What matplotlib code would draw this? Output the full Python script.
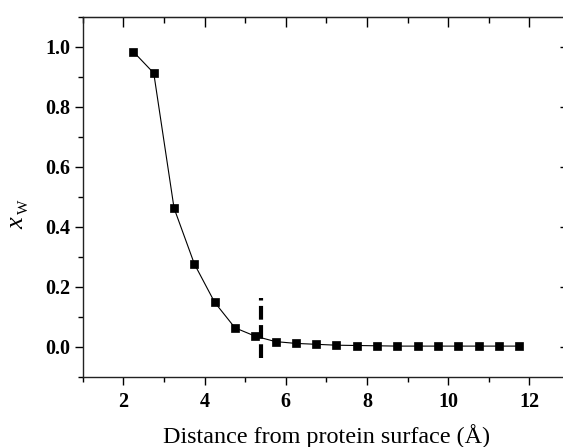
import matplotlib
matplotlib.use("Agg")
import matplotlib.pyplot as plt
from matplotlib.ticker import MultipleLocator

# data
distance = [2.25, 2.75, 3.25, 3.75, 4.25, 4.75, 5.25, 5.75, 6.25, 6.75,
            7.25, 7.75, 8.25, 8.75, 9.25, 9.75, 10.25, 10.75, 11.25, 11.75]
x_w = [0.983, 0.912, 0.462, 0.276, 0.148, 0.063, 0.035, 0.017, 0.011, 0.008,
       0.005, 0.004, 0.003, 0.002, 0.002, 0.002, 0.002, 0.002, 0.002, 0.002]
cutoff_x = 5.38
cutoff_y = (-0.037, 0.163)

W, H = 563, 447
fig = plt.figure(figsize=(W / 100, H / 100), dpi=100)
# axes box in pixels: left 82.7, right 569.9 (off image), top 16.7, bottom 376.7
ax = fig.add_axes([82.7 / W, (H - 376.7) / H, 487.2 / W, 360.0 / H])

ax.plot(distance, x_w, color="black", linewidth=0.8, marker="s",
        markersize=5.6, markerfacecolor="black", markeredgecolor="black",
        markeredgewidth=0.5, zorder=3)
ax.plot([cutoff_x, cutoff_x], cutoff_y, color="black", linewidth=3.0,
        linestyle=(0, (3.3, 1.3)), solid_capstyle="butt", dash_capstyle="butt",
        zorder=4)

ax.set_xlim(1, 13)
ax.set_ylim(-0.1, 1.1)
ax.xaxis.set_major_locator(MultipleLocator(2))
ax.xaxis.set_minor_locator(MultipleLocator(1))
ax.yaxis.set_major_locator(MultipleLocator(0.2))
ax.yaxis.set_minor_locator(MultipleLocator(0.1))

ax.set_xticks([2, 4, 6, 8, 10, 12])
ax.set_xticklabels(["2", "4", "6", "8", "10", "12"])
ax.set_yticks([0.0, 0.2, 0.4, 0.6, 0.8, 1.0])
ax.set_yticklabels(["0.0", "0.2", "0.4", "0.6", "0.8", "1.0"])

tick_font = {"family": "Liberation Serif", "weight": "bold", "size": 14.5}
for lab in ax.get_xticklabels() + ax.get_yticklabels():
    lab.set_fontfamily(tick_font["family"])
    lab.set_fontweight(tick_font["weight"])
    lab.set_fontsize(tick_font["size"])

ax.tick_params(which="both", direction="out", bottom=True, left=True,
               top=False, right=False, width=1.0, color="black")
ax.tick_params(which="major", length=6)
ax.tick_params(which="minor", length=3.5)
ax.tick_params(axis="x", pad=5)
ax.tick_params(axis="y", pad=3)

# inward ticks on top and right, like the original
ax_top = ax.secondary_xaxis("top")
ax_top.xaxis.set_major_locator(MultipleLocator(2))
ax_top.xaxis.set_minor_locator(MultipleLocator(1))
ax_top.tick_params(which="both", direction="in", labeltop=False, width=1.0)
ax_top.tick_params(which="major", length=7)
ax_top.tick_params(which="minor", length=4)
ax_right = ax.secondary_yaxis("right")
ax_right.yaxis.set_major_locator(MultipleLocator(0.2))
ax_right.yaxis.set_minor_locator(MultipleLocator(0.1))
ax_right.tick_params(which="both", direction="in", labelright=False, width=1.0)
ax_right.tick_params(which="major", length=7)
ax_right.tick_params(which="minor", length=4)

for sp in ax.spines.values():
    sp.set_linewidth(1.0)
    sp.set_color("#222222")

ax.set_xlabel("Distance from protein surface (Å)", family="Liberation Serif",
              fontsize=17.4, labelpad=9)

# y label: italic x with subscript W
fig.text(17.7 / W, 1 - 223 / H, "x", family="Liberation Serif", style="italic",
         fontsize=19, rotation=90, ha="center", va="center")
fig.text(24.5 / W, 1 - 207 / H, "W", family="Liberation Serif",
         fontsize=11, rotation=90, ha="center", va="center")

fig.savefig("out.png", dpi=100)
